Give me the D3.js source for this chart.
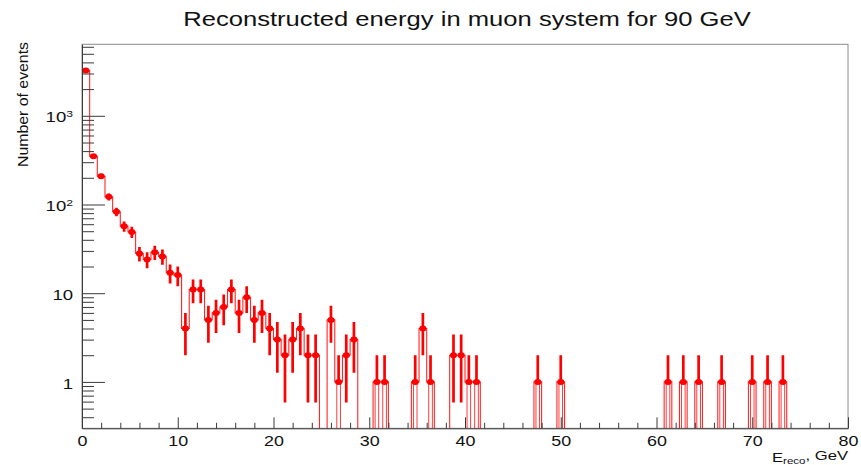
<!DOCTYPE html>
<html>
<head>
<meta charset="utf-8">
<script src="https://cdn.jsdelivr.net/npm/d3@7"></script>
<style>
  html, body { margin: 0; padding: 0; background: #fff; }
  svg { display: block; font-family: "Liberation Sans", Arial, Helvetica, sans-serif; }
</style>
</head>
<body>
<svg id="chart" width="861" height="465"></svg>
<script>
// Histogram: reconstructed energy in the muon system, 100 bins of 0.8 GeV from 0 to 80 GeV
const binEdgesLow = 0;
const binWidth = 0.8;
const counts = [
  3250, 350, 208, 122, 83, 57, 49, 28, 24, 29,
  26, 17, 16, 4, 11, 11, 5, 6, 7, 11,
  6, 9, 5, 6, 4, 3, 2, 3, 4, 2,
  2, 0, 5, 1, 2, 3, 0, 0, 1, 1,
  0, 0, 0, 1, 4, 1, 0, 0, 2, 2,
  1, 1, 0, 0, 0, 0, 0, 0, 0, 1,
  0, 0, 1, 0, 0, 0, 0, 0, 0, 0,
  0, 0, 0, 0, 0, 0, 1, 0, 1, 0,
  1, 0, 0, 1, 0, 0, 0, 1, 0, 1,
  0, 1, 0, 0, 0, 0, 0, 0, 0, 0
];

const xMajorTicks = [0, 10, 20, 30, 40, 50, 60, 70, 80];
const xMinorTicks = d3.range(2, 80, 2).filter(v => v % 10 !== 0);
const yMajorTicks = [1, 10, 100, 1000];
const yTickLabels = { 1: ["1", ""], 10: ["10", ""], 100: ["10", "2"], 1000: ["10", "3"] };
const yMinorTicks = [0.4, 0.5, 0.6, 0.7, 0.8, 0.9]
  .concat([2, 3, 4, 5, 6, 7, 8, 9])
  .concat([20, 30, 40, 50, 60, 70, 80, 90])
  .concat([200, 300, 400, 500, 600, 700, 800, 900])
  .concat([2000, 3000, 4000, 5000, 6000]);

const titleText = "Reconstructed energy in muon system for 90 GeV";
const yTitleText = "Number of events";

const RED = "#ff0000";
const AXIS = "#3a3a3a";
const SX = 1.28; // horizontal stretch of glyphs

const svg = d3.select("#chart");
const frame = { left: 82, right: 848, top: 44.3, bottom: 428.3 };

const x = d3.scaleLinear().domain([0, 80]).range([frame.left, frame.right]);
const y = d3.scaleLog().domain([0.3, 6400]).range([frame.bottom, frame.top]);

svg.append("defs").append("clipPath").attr("id", "plotClip")
  .append("rect")
  .attr("x", frame.left).attr("y", frame.top)
  .attr("width", frame.right - frame.left).attr("height", frame.bottom - frame.top);

// frame
svg.append("rect")
  .attr("x", frame.left).attr("y", frame.top)
  .attr("width", frame.right - frame.left).attr("height", frame.bottom - frame.top)
  .attr("fill", "none").attr("stroke", "#8a8a8a").attr("stroke-width", 1);

const bins = counts.map((c, i) => ({
  lo: binEdgesLow + i * binWidth,
  hi: binEdgesLow + (i + 1) * binWidth,
  mid: binEdgesLow + (i + 0.5) * binWidth,
  c
}));

const plot = svg.append("g").attr("clip-path", "url(#plotClip)");

// step outline; empty bins fall to the bottom of the frame
const yOf = c => c > 0 ? y(c) : frame.bottom + 2;
const outline = [[x(0), frame.bottom + 2]];
bins.forEach(b => {
  outline.push([x(b.lo), yOf(b.c)]);
  outline.push([x(b.hi), yOf(b.c)]);
});
outline.push([x(80), frame.bottom + 2]);
plot.append("path")
  .attr("d", d3.line()(outline))
  .attr("fill", "none").attr("stroke", RED).attr("stroke-width", 1.1)
  .attr("opacity", 0.85);

// error bars (sqrt(N))
const filled = bins.filter(b => b.c > 0);
filled.forEach(b => {
  const e = Math.sqrt(b.c);
  const up = b.c + e, dn = b.c - e;
  const cx = x(b.mid);
  if (dn > 0) {
    plot.append("line")
      .attr("x1", cx).attr("x2", cx).attr("y1", y(dn)).attr("y2", y(up))
      .attr("stroke", RED).attr("stroke-width", 2.7);
  } else {
    plot.append("line")
      .attr("x1", cx).attr("x2", cx).attr("y1", y(b.c)).attr("y2", y(up))
      .attr("stroke", RED).attr("stroke-width", 2.7);
    // lower error reaches zero: drawn open down to the frame bottom
    plot.append("rect")
      .attr("x", cx - 1.8).attr("y", y(b.c))
      .attr("width", 3.6).attr("height", frame.bottom - y(b.c) + 2)
      .attr("fill", "none").attr("stroke", RED).attr("stroke-width", 0.9)
      .attr("opacity", 0.85);
  }
});

// markers
plot.selectAll("ellipse.pt").data(filled).join("ellipse")
  .attr("class", "pt")
  .attr("cx", b => x(b.mid)).attr("cy", b => y(b.c))
  .attr("rx", 3.6).attr("ry", 3.0)
  .attr("fill", RED);

// x axis
const gx = svg.append("g").attr("transform", `translate(0,${frame.bottom})`)
  .call(d3.axisBottom(x).tickValues(xMajorTicks).tickSizeInner(-11).tickSizeOuter(0)
    .tickPadding(7.8).tickFormat(d3.format("d")));
gx.select(".domain").attr("stroke", AXIS);
gx.selectAll(".tick line").attr("stroke", AXIS);
gx.selectAll(".tick text")
  .attr("fill", "#111").attr("font-size", 14).attr("font-family", null)
  .attr("transform", `scale(${SX},1)`);

const gxm = svg.append("g").attr("transform", `translate(0,${frame.bottom})`)
  .call(d3.axisBottom(x).tickValues(xMinorTicks).tickSizeInner(-5.5).tickSizeOuter(0).tickFormat(""));
gxm.select(".domain").remove();
gxm.selectAll(".tick line").attr("stroke", AXIS);

// y axis
const yPad = 9;
const gy = svg.append("g").attr("transform", `translate(${frame.left},0)`)
  .call(d3.axisLeft(y).tickValues(yMajorTicks).tickSizeInner(-23).tickSizeOuter(0)
    .tickPadding(yPad).tickFormat(() => ""));
gy.select(".domain").attr("stroke", AXIS);
gy.selectAll(".tick line").attr("stroke", AXIS);
gy.selectAll(".tick text").each(function(d) {
  const t = d3.select(this)
    .attr("x", -yPad / SX).attr("dy", "0.42em")
    .attr("fill", "#111").attr("font-size", 14.5).attr("font-family", null)
    .attr("transform", `scale(${SX},1)`);
  const [base, sup] = yTickLabels[d];
  t.append("tspan").text(base);
  if (sup) {
    t.append("tspan").attr("font-size", 9.5).attr("dy", "-0.55em").text(sup);
  }
});

const gym = svg.append("g").attr("transform", `translate(${frame.left},0)`)
  .call(d3.axisLeft(y).tickValues(yMinorTicks).tickSizeInner(-12).tickSizeOuter(0).tickFormat(""));
gym.select(".domain").remove();
gym.selectAll(".tick line").attr("stroke", AXIS);

// titles
svg.append("text")
  .attr("transform", `translate(467,26) scale(${SX},1)`)
  .attr("text-anchor", "middle").attr("font-size", 20).attr("fill", "#111")
  .text(titleText);

svg.append("text")
  .attr("transform", "translate(28,42) rotate(-90)")
  .attr("text-anchor", "end").attr("font-size", 15).attr("fill", "#111")
  .attr("textLength", 125).attr("lengthAdjust", "spacingAndGlyphs")
  .text(yTitleText);

const xt = svg.append("text")
  .attr("transform", `translate(848,461.5) scale(${SX},1)`)
  .attr("text-anchor", "end").attr("font-size", 13).attr("fill", "#111");
xt.append("tspan").text("E");
xt.append("tspan").attr("font-size", 9).attr("dy", "0.28em").text("reco");
xt.append("tspan").attr("dy", "-0.28em").text(", GeV");
</script>
</body>
</html>
